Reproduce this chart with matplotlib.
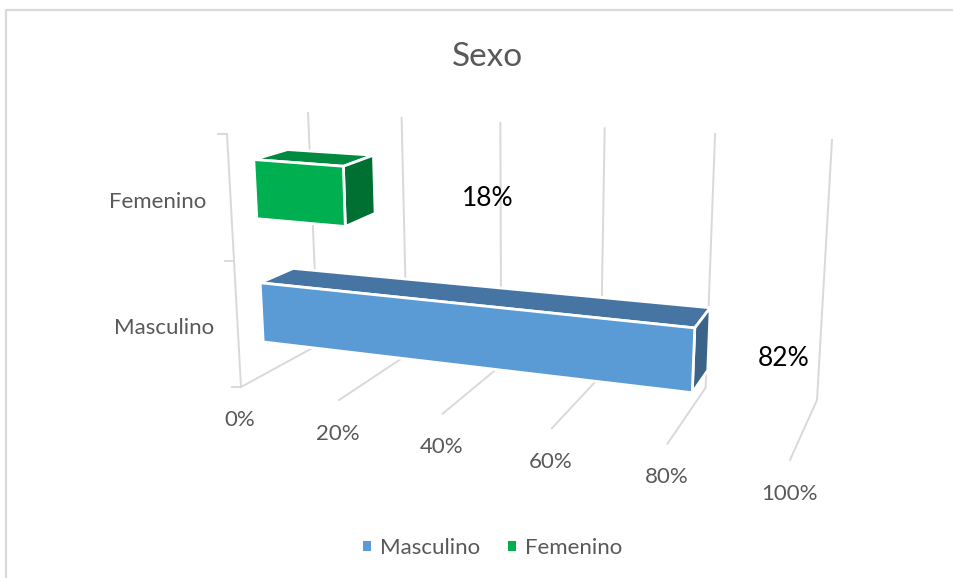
import matplotlib
matplotlib.use("Agg")
import matplotlib.pyplot as plt
from matplotlib.patches import Polygon, Patch
from matplotlib.lines import Line2D

# ---- data ----
categories = ["Masculino", "Femenino"]
values = [82, 18]
axis_ticks = [0, 20, 40, 60, 80, 100]
title = "Sexo"

# ---- style ----
plt.rcParams["font.family"] = ["Lato", "DejaVu Sans"]
FS = 16
GREY = "#D9D9D9"
TXT = "#595959"
face_colors = ["#5B9BD5", "#00B050"]
top_colors = ["#4675A3", "#008A3F"]
side_colors = ["#3B6488", "#006F32"]
label_pos = [(784, 358), (488, 198)]
cat_pos = [(214, 328), (206, 202)]

W, H = 954, 578
fig = plt.figure(figsize=(W / 100, H / 100), dpi=100, facecolor="white")
ax = fig.add_axes([0, 0, 1, 1])
ax.set_xlim(0, W)
ax.set_ylim(H, 0)
ax.axis("off")

# 3-D scene calibration: corners of the chart box (value, depth, height)
C000, C100 = (241, 387), (790, 460)
C010, C110 = (318, 345), (817, 400)
C001, C101 = (227, 134), (807, 177)
C011, C111 = (308, 113), (832, 140)
PERSP = -0.13
VMAX = 100.0


def lerp(a, b, t):
    return (a[0] + (b[0] - a[0]) * t, a[1] + (b[1] - a[1]) * t)


def project(v, d, h):
    u = v / VMAX
    t = u * (1 + PERSP) / (1 + PERSP * u)
    bottom = lerp(lerp(C000, C100, t), lerp(C010, C110, t), d)
    top = lerp(lerp(C001, C101, t), lerp(C011, C111, t), d)
    return lerp(bottom, top, h)


# frame of the chart area
ax.add_line(Line2D([6.5, 6.5, W], [H, 10, 10], color="#DADADA", lw=1.6, zorder=1))

# gridlines
for v in axis_ticks:
    pts = [project(v, 0, 0), project(v, 1, 0), project(v, 1, 1)]
    ax.add_line(Line2D(*zip(*pts), color=GREY, lw=1.4, zorder=2,
                       solid_joinstyle="miter"))
    x, y = project(v, 0, 0)
    ax.text(x - 1, y + 33.5, f"{v}%", ha="center", va="center", fontsize=FS, color=TXT)

# category axis with ticks
ax.add_line(Line2D(*zip(project(0, 0, 0), project(0, 0, 1)), color=GREY, lw=1.4, zorder=2))
for h in [0, 0.5, 1]:
    x, y = project(0, 0, h)
    ax.add_line(Line2D([x - 9, x], [y, y], color=GREY, lw=1.4, zorder=2))

# bars
D0, D1 = 0.31, 0.73
BAND = 0.5
THICK = 0.24
for i in [1, 0]:
    v = values[i]
    h0 = BAND * (i + 0.5) - THICK / 2
    h1 = h0 + THICK
    z = 5 + (1 - i)
    top = [project(0, D0, h1), project(0, D1, h1), project(v, D1, h1), project(v, D0, h1)]
    side = [project(v, D0, h0), project(v, D0, h1), project(v, D1, h1), project(v, D1, h0)]
    front = [project(0, D0, h0), project(0, D0, h1), project(v, D0, h1), project(v, D0, h0)]
    for poly, col in ((top, top_colors[i]), (side, side_colors[i]), (front, face_colors[i])):
        ax.add_patch(Polygon(poly, closed=True, facecolor=col, edgecolor="white",
                             lw=2.0, joinstyle="miter", zorder=z))
    ax.text(*label_pos[i], f"{v}%", ha="center", va="center", fontsize=19,
            color="black", zorder=8)
    ax.text(*cat_pos[i], categories[i], ha="right", va="center", fontsize=FS, color=TXT)

ax.text(487, 57, title, ha="center", va="center", fontsize=24, color=TXT)

handles = [Patch(facecolor=c, edgecolor="none", label=n) for c, n in zip(face_colors, categories)]
ax.legend(handles=handles, loc="center", bbox_to_anchor=(492.5 / W, 1 - 548 / H), frameon=False,
          ncol=2, fontsize=FS, labelcolor=TXT, handlelength=0.36, handleheight=0.36,
          handletextpad=0.4, columnspacing=1.26, borderpad=0, borderaxespad=0)

fig.savefig("out.png", dpi=100, facecolor="white")
